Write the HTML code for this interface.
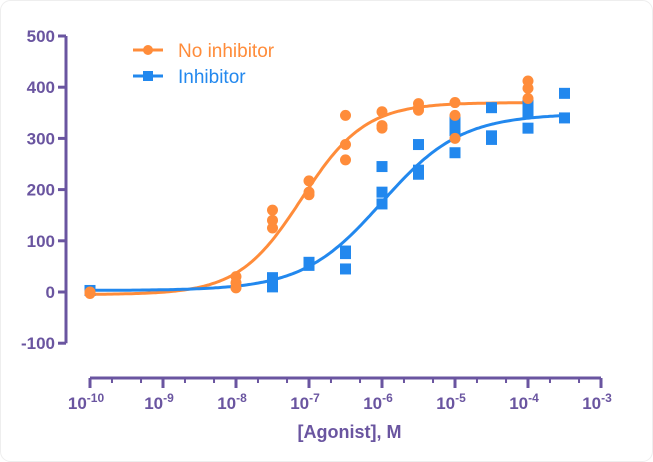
<!DOCTYPE html>
<html><head><meta charset="utf-8"><style>
html,body{margin:0;padding:0;background:#fff;}
svg{display:block;font-family:"Liberation Sans",Arial,sans-serif;}
</style></head><body>
<svg id="chart" width="653" height="462" viewBox="0 0 653 462">
<rect x="0.5" y="0.5" width="652" height="461" rx="10" fill="#fff" stroke="#eeeeee"/>
<g id="axes"></g><g id="curves"></g><g id="points"></g>
<g>
 <g>
  <line x1="133" y1="50" x2="163" y2="50" stroke="#ff8c3a" stroke-width="3"/>
  <circle cx="148" cy="50" r="5" fill="#ff8c3a"/>
  <text x="178" y="57" font-size="19" fill="#ff8c3a">No inhibitor</text>
 </g>
 <g>
  <line x1="133" y1="76" x2="163" y2="76" stroke="#2288ee" stroke-width="3"/>
  <rect x="143" y="71" width="10" height="10" fill="#2288ee"/>
  <text x="178" y="83" font-size="19" fill="#2288ee">Inhibitor</text>
 </g>
</g>
</svg>
<script>
const yTicks=[-100,0,100,200,300,400,500];
const xTicks=[-10,-9,-8,-7,-6,-5,-4,-3];
const noInhX=[-10,-10,-8,-8,-8,-7.5,-7.5,-7.5,-7,-7,-7,-6.5,-6.5,-6.5,-6,-6,-6,-5.5,-5.5,-5.5,-5,-5,-5,-4,-4,-4];
const noInhY=[0,-3,30,18,8,160,140,125,217,195,190,345,288,258,352,325,320,368,360,355,370,345,300,412,398,378];
const inhX=[-10,-7.5,-7.5,-7.5,-7,-7,-6.5,-6.5,-6.5,-6,-6,-6,-5.5,-5.5,-5.5,-5,-5,-5,-4.5,-4.5,-4.5,-4,-4,-4,-3.5,-3.5];
const inhY=[3,28,18,10,58,52,80,75,45,245,195,172,288,238,230,335,315,272,360,305,298,365,350,320,388,340];
const noInhFit=[-5,370,-7.1,1.0];
const inhFit=[3,348,-6.0,0.8];
const ns="http://www.w3.org/2000/svg";
const purple="#6a55a0";
const X=v=>90+(v+10)*73;
const Y=v=>292-v*0.512;
function mk(tag,attrs,parent){const e=document.createElementNS(ns,tag);for(const k in attrs)e.setAttribute(k,attrs[k]);parent.appendChild(e);return e;}
const axes=document.getElementById('axes');
let yl=mk('line',{x1:66,y1:Y(500),x2:66,y2:Y(-100),stroke:purple,'stroke-width':3},axes);


yTicks.forEach(t=>{
 mk('line',{x1:58,x2:66,y1:Y(t),y2:Y(t),stroke:purple,'stroke-width':3},axes);
 const tx=mk('text',{x:55,y:Y(t)+6,'text-anchor':'end','font-size':17,'font-weight':'bold',fill:purple},axes);
 tx.textContent=t;
 
 
});
let xl=mk('line',{x1:X(-10),y1:378,x2:X(-3),y2:378,stroke:purple,'stroke-width':3},axes);


xTicks.forEach(t=>{
 mk('line',{x1:X(t),x2:X(t),y1:378,y2:388,stroke:purple,'stroke-width':3},axes);
 if(t<-3){[2,5].forEach(m=>{const xx=X(t+Math.log10(m));mk('line',{x1:xx,x2:xx,y1:378,y2:383,stroke:purple,'stroke-width':2},axes);});}
 const tx=mk('text',{x:X(t)-4,y:409,'text-anchor':'middle','font-size':17,'font-weight':'bold',fill:purple},axes);
 
 
 tx.appendChild(document.createTextNode('10'));
 const s=mk('tspan',{dy:-7,'font-size':12},tx);s.textContent=t;
});
const xt=mk('text',{x:X(-6.5)+4,y:438,'text-anchor':'middle','font-size':18,'font-weight':'bold',fill:purple},axes);
xt.textContent='[Agonist], M';


const curves=document.getElementById('curves');
function curve(p,x0,x1,col,name){
 let d='';for(let i=0;i<=200;i++){const x=x0+(x1-x0)*i/200;const y=p[0]+(p[1]-p[0])/(1+Math.pow(10,(p[2]-x)*p[3]));d+=(i?'L':'M')+X(x).toFixed(1)+','+Y(y).toFixed(1);}
 const e=mk('path',{d:d,fill:'none',stroke:col,'stroke-width':3},curves);
 
 
}
curve(noInhFit,-10,-4,'#ff8c3a','fit-curve-no-inhibitor');
curve(inhFit,-10,-3.5,'#2288ee','fit-curve-inhibitor');
const pts=document.getElementById('points');
inhX.forEach((x,i)=>{
 const e=mk('rect',{x:X(x)-5.5,y:Y(inhY[i])-5.5,width:11,height:11,fill:'#2288ee'},pts);
 
 
});
noInhX.forEach((x,i)=>{
 const e=mk('circle',{cx:X(x),cy:Y(noInhY[i]),r:5.5,fill:'#ff8c3a'},pts);
 
 
});
</script>
</body></html>
